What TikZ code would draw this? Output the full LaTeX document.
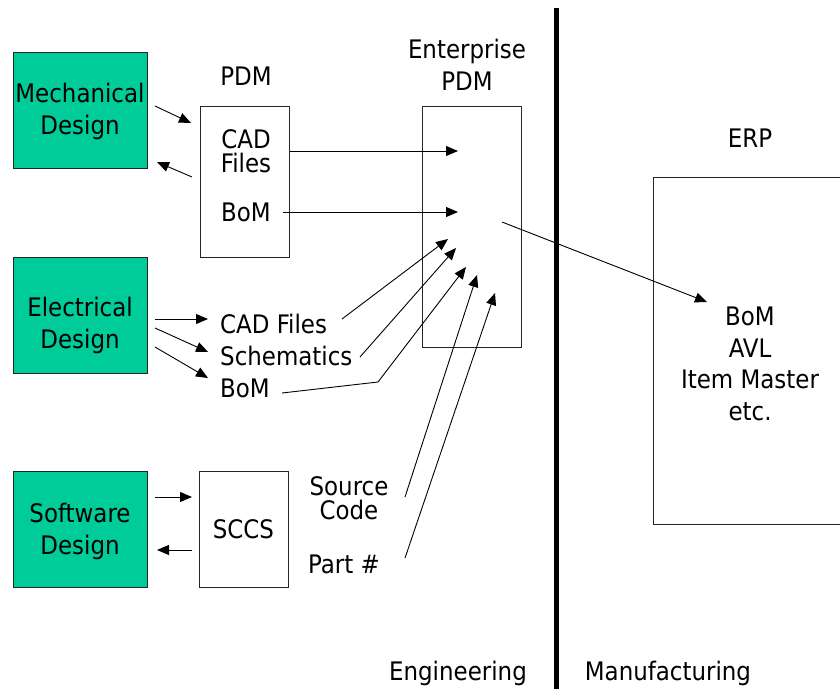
\documentclass[tikz,border=0pt]{standalone}
\usepackage{fontspec}
\setmainfont{DejaVu Sans Condensed}
\usetikzlibrary{arrows.meta}
\definecolor{designgreen}{RGB}{0,204,153}

\begin{document}
\begin{tikzpicture}[x=1pt,y=-1pt,
  font=\fontsize{25.5}{32}\selectfont,
  design/.style={draw=black!85, fill=designgreen, line width=1pt,
    minimum width=134pt, minimum height=116pt, inner sep=0pt},
  store/.style={draw=black!85, line width=1pt, inner sep=0pt},
  lbl/.style={align=center, inner sep=0pt},
  tight/.style={font=\fontsize{25.5}{24}\selectfont},
  flow/.style={-{Triangle[length=12pt,width=10pt]}, line width=0.9pt},
  divider/.style={line width=5pt}]

\clip (0,0) rectangle (840,688);

% design tool boxes
\node[design] (mech) at (80,110.5) {};
\node[lbl] (mechtxt) at (80,111) {Mechanical\\Design};
\node[design] (elec) at (80,315) {};
\node[lbl] (electxt) at (80,325) {Electrical\\Design};
\node[design] (soft) at (80,529) {};
\node[lbl] (softtxt) at (80,531) {Software\\Design};

% repositories
\node[store, minimum width=89pt, minimum height=151pt] (pdm) at (244.5,181.5) {};
\node[lbl, anchor=base] (pdmtitle) at (246,85) {PDM};
\node[lbl, tight] (pdmcad) at (246,151) {CAD\\Files};
\node[lbl] (pdmbom) at (246,212) {BoM};

\node[store, minimum width=89pt, minimum height=116pt] (sccs) at (243.5,529) {SCCS};

\node[store, minimum width=99pt, minimum height=241pt] (epdm) at (471.5,226.5) {};
\node[lbl] (epdmtitle) at (467,64.5) {Enterprise\\PDM};

\node[store, minimum width=200pt, minimum height=347pt] (erp) at (753,350.5) {};
\node[lbl, anchor=base] (erptitle) at (750,147) {ERP};
\node[lbl, font=\fontsize{25.5}{31.5}\selectfont] (erptxt) at (750,364)
  {BoM\\AVL\\Item Master\\etc.};

% electrical outputs
\node[lbl, anchor=west] (ecad) at (220,324) {CAD Files};
\node[lbl, anchor=west] (esch) at (220,356) {Schematics};
\node[lbl, anchor=west] (ebom) at (220,388) {BoM};

% software outputs
\node[lbl, tight] (src) at (349,498) {Source\\Code};
\node[lbl, anchor=base west] (part) at (308,573) {Part \#};

% region labels
\node[lbl, anchor=base] (eng) at (458,680) {Engineering};
\node[lbl, anchor=base] (mfg) at (668,680) {Manufacturing};

% engineering / manufacturing divider
\coordinate (divtop) at (556.5,8);
\coordinate (divbot) at (556.5,690);
\draw[divider] (divtop) -- (divbot);

% connector end points
\coordinate (m1s) at (155,106);  \coordinate (m1e) at (191,123);
\coordinate (m2s) at (192,177);  \coordinate (m2e) at (157,162);
\coordinate (pc) at (458,151);
\coordinate (pb) at (458,212);
\coordinate (xs) at (502,222);   \coordinate (xe) at (707,302);
\coordinate (e1s) at (155,319);  \coordinate (e1e) at (208,319);
\coordinate (e2s) at (155,328);  \coordinate (e2e) at (208,352);
\coordinate (e3s) at (155,347);  \coordinate (e3e) at (208,378);
\coordinate (c1s) at (342,319);  \coordinate (c1e) at (448,239);
\coordinate (c2s) at (360,357);  \coordinate (c2e) at (456,248);
\coordinate (c3s) at (282,393);  \coordinate (c3m) at (378,382);
\coordinate (c3e) at (466,267);
\coordinate (c4s) at (405,497);  \coordinate (c4e) at (477,275);
\coordinate (c5s) at (405,558);  \coordinate (c5e) at (495,293);
\coordinate (s1s) at (155,497);  \coordinate (s1e) at (192,497);
\coordinate (s2s) at (192,550);  \coordinate (s2e) at (157,550);

% mechanical <-> PDM
\draw[flow] (m1s) -- (m1e);
\draw[flow] (m2s) -- (m2e);
\draw[flow] (pdm.east |- pc) -- (pc);
\draw[flow] (283,212) -- (pb);

% enterprise PDM -> ERP
\draw[flow] (xs) -- (xe);

% electrical
\draw[flow] (e1s) -- (e1e);
\draw[flow] (e2s) -- (e2e);
\draw[flow] (e3s) -- (e3e);
\draw[flow] (c1s) -- (c1e);
\draw[flow] (c2s) -- (c2e);
\draw[flow] (c3s) -- (c3m) -- (c3e);

% software
\draw[flow] (c4s) -- (c4e);
\draw[flow] (c5s) -- (c5e);
\draw[flow] (s1s) -- (s1e);
\draw[flow] (s2s) -- (s2e);
\end{tikzpicture}
\end{document}
